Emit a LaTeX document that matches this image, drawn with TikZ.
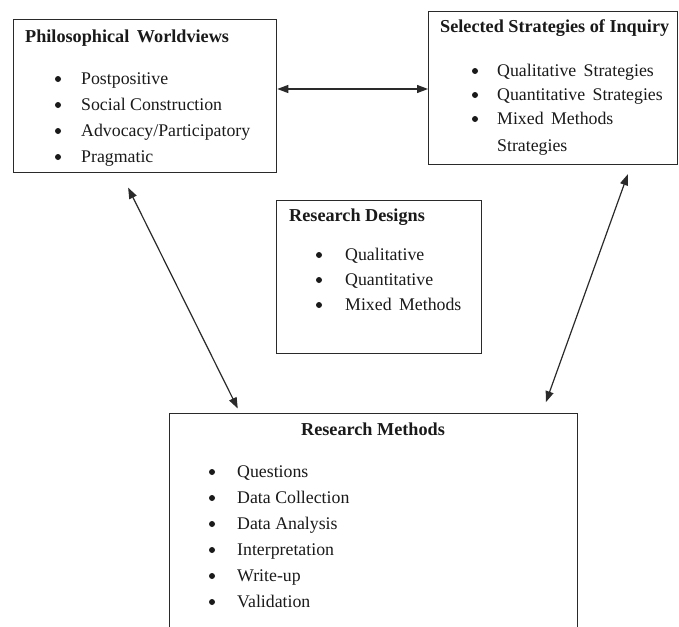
\documentclass[tikz,border=0pt]{standalone}
\usepackage{fontspec}
\setmainfont{Liberation Serif}
\usepackage{xcolor}
\usetikzlibrary{arrows.meta, calc}
\definecolor{colLine}{HTML}{2A2A2A}
\definecolor{colText}{HTML}{1A1A1A}
\tikzset{
  % Framed boxes (content placed separately)
  panel/.style={
    draw=colLine, line width=1.3pt, fill=white,
    anchor=north west, inner sep=0pt,
  },
  % Box headings
  heading/.style={
    font=\fontsize{18.2}{22}\selectfont\bfseries, text=colText,
    inner sep=0pt, anchor=base west,
  },
  % List entries and their bullets
  entry/.style={
    font=\fontsize{17.8}{26}\selectfont, text=colText,
    inner sep=0pt, anchor=base west,
  },
  dot/.style={circle, fill=colText, inner sep=0pt, minimum size=6pt},
  % Two-headed connectors
  dblarr/.style={
    {Triangle[length=11pt,width=8pt]}-{Triangle[length=11pt,width=8pt]},
    line width=1.2pt, colLine,
  },
}

\begin{document}
\begin{tikzpicture}[x=1pt, y=-1pt]

\useasboundingbox (0,0) rectangle (679,626);
\clip (0,0) rectangle (679,626);

%% ---------------------------------------------------------------
%% BOXES
%% ---------------------------------------------------------------

\node[panel, minimum width=263pt, minimum height=153pt] (pw)  at (13,19)  {};
\node[panel, minimum width=249pt, minimum height=153pt] (ssi) at (428,11) {};
\node[panel, minimum width=205pt, minimum height=153pt] (rd)  at (276,200) {};
\node[panel, minimum width=408pt, minimum height=235pt] (rm)  at (169,413) {};

%% ---------------------------------------------------------------
%% HEADINGS
%% ---------------------------------------------------------------

\node[heading] (pwT)  at (25,42)  {Philosophical\, Worldviews};
\node[heading] (ssiT) at (440,33) {Selected Strategies of Inquiry};
\node[heading] (rdT)  at (289,221) {Research Designs};
\node[heading, anchor=base] (rmT) at (373,435) {Research Methods};

%% ---------------------------------------------------------------
%% LISTS
%% ---------------------------------------------------------------

% Philosophical worldviews
\foreach \txt [count=\i] in {Postpositive, Social Construction,
                             Advocacy/Participatory, Pragmatic}{
  \node[dot]   (pwB\i) at (58,{79+26*(\i-1)}) {};
  \node[entry] (pwE\i) at (81,{84+26*(\i-1)}) {\txt};
}

% Strategies of inquiry
\foreach \txt [count=\i] in {Qualitative\, Strategies, Quantitative\, Strategies,
                             Mixed\, Methods}{
  \node[dot]   (ssiB\i) at (475,{71+24*(\i-1)}) {};
  \node[entry] (ssiE\i) at (497,{76+24*(\i-1)}) {\txt};
}
\node[entry] (ssiE3b) at (497,151) {Strategies};

% Research designs
\foreach \txt [count=\i] in {Qualitative, Quantitative, Mixed\, Methods}{
  \node[dot]   (rdB\i) at (319,{255+25*(\i-1)}) {};
  \node[entry] (rdE\i) at (345,{260+25*(\i-1)}) {\txt};
}

% Research methods
\foreach \txt [count=\i] in {Questions, Data Collection, Data Analysis,
                             Interpretation, Write-up, Validation}{
  \node[dot]   (rmB\i) at (212,{472+26*(\i-1)}) {};
  \node[entry] (rmE\i) at (237,{477+26*(\i-1)}) {\txt};
}

%% ---------------------------------------------------------------
%% CONNECTORS
%% ---------------------------------------------------------------

\coordinate (hlev) at (0,89);
\draw[dblarr] (pw.east |- hlev) -- (ssi.west |- hlev);

\draw[dblarr, shorten <=16pt, shorten >=5pt]
  ($(pw.south west)+(108,0)$) -- ($(rm.north west)+(71,0)$);

\draw[dblarr, shorten <=9.5pt, shorten >=11.5pt]
  ($(ssi.south west)+(203,0)$) -- ($(rm.north west)+(373,0)$);

\end{tikzpicture}
\end{document}
